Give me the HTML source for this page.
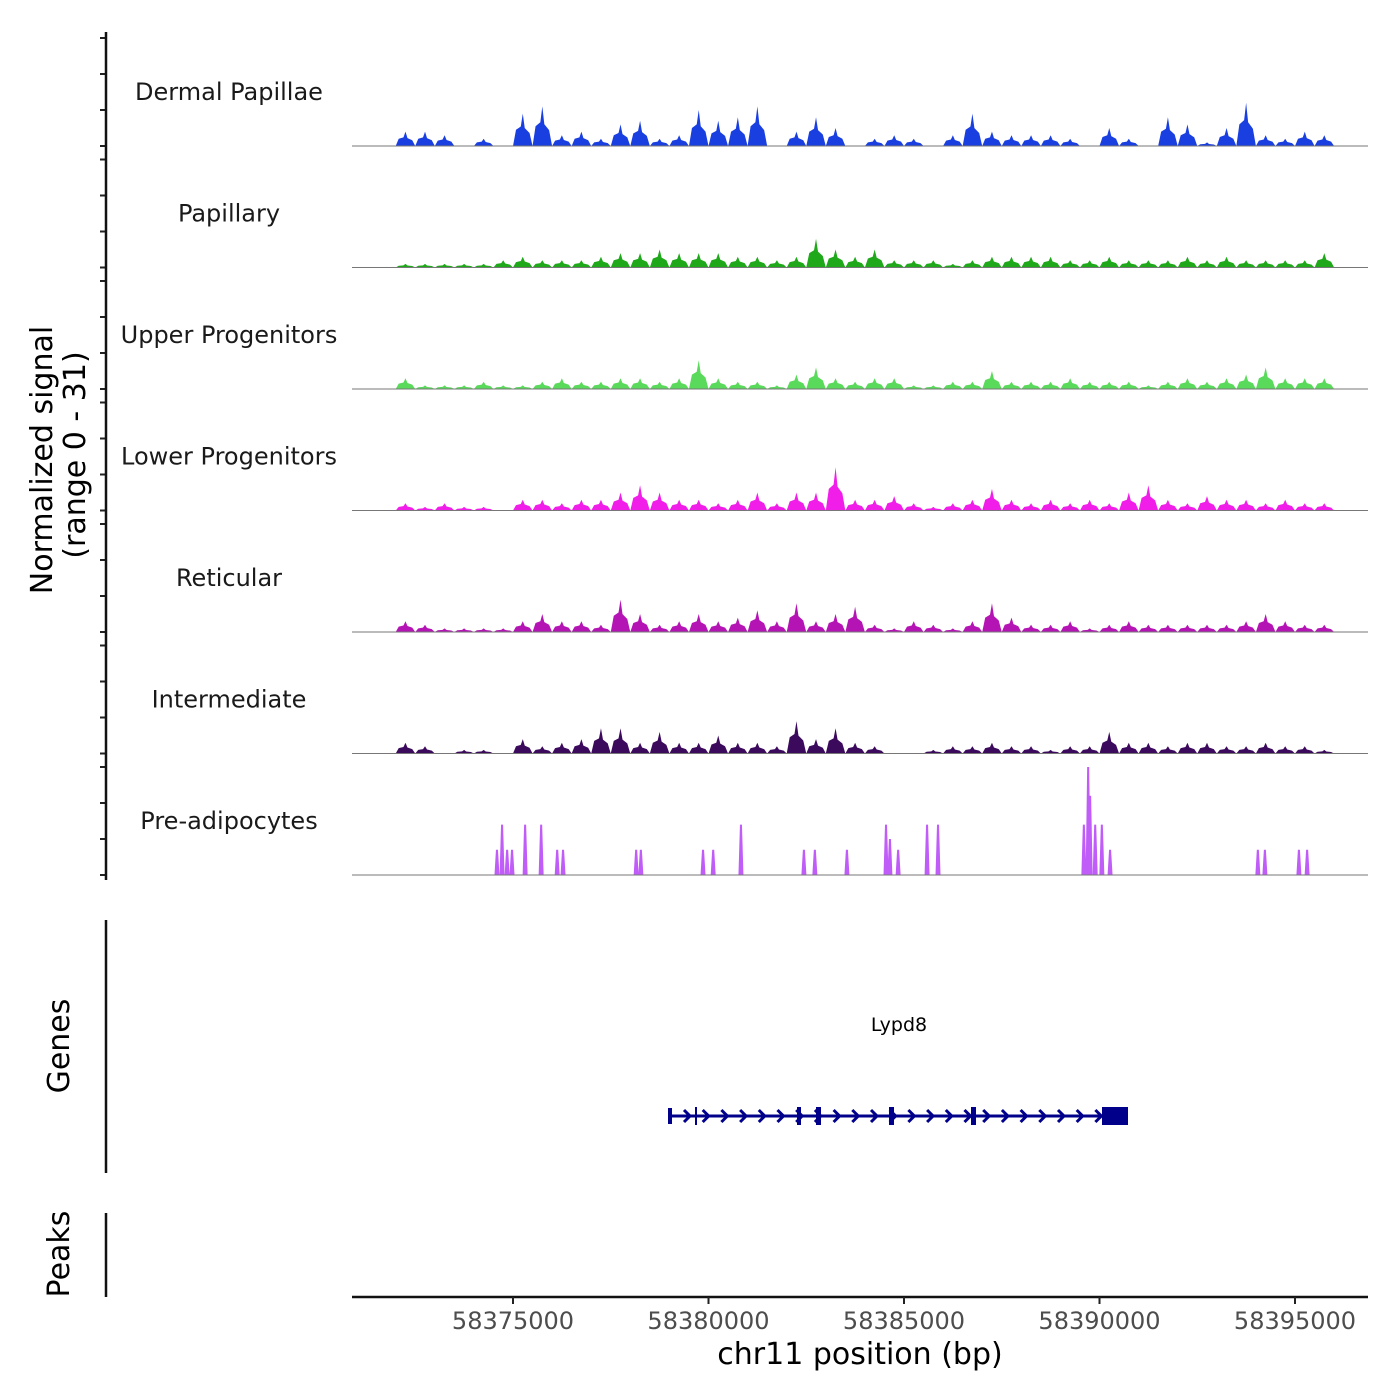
<!DOCTYPE html>
<html><head><meta charset="utf-8"><style>
body{margin:0;background:#fff}
svg{display:block;font-family:"DejaVu Sans","Liberation Sans",sans-serif}
</style></head><body>
<svg id="c" width="1400" height="1400" viewBox="0 0 1400 1400">
<rect width="1400" height="1400" fill="#fff"/>
<g id="tracks"></g>
<g id="axes"></g>
</svg>
<script>
const trackNames=["Dermal Papillae","Papillary","Upper Progenitors","Lower Progenitors","Reticular","Intermediate","Pre-adipocytes"];
const trackColors=["#1a3fe0","#1fa81a","#5ada5a","#f01ee8","#b414b4","#3c0a5c","#c05cf8"];
const binStart=58372000;
const binSize=500;
const dermal=[4,4,3,0,2,0,9,11,3,4,2,6,7,2,3,10,7,8,11,0,4,8,5,0,2,3,2,0,3,9,4,3,3,3,2,0,5,2,0,8,6,1,5,12,3,2,4,3];
const papillary=[1,1,1,1,1,2,3,2,2,2,3,4,4,5,4,4,4,3,3,2,3,8,5,3,5,2,2,2,1,2,3,3,3,3,2,2,3,2,2,2,3,2,3,2,2,2,2,4];
const upper=[3,1,1,1,2,1,1,2,3,2,2,3,3,2,3,8,3,2,2,1,4,6,3,2,3,3,1,1,2,2,5,2,2,2,3,2,2,2,1,2,3,2,3,4,6,3,3,3];
const lower=[2,1,2,1,1,0,3,3,2,3,3,5,7,5,3,3,2,3,5,2,5,5,12,3,3,4,2,1,2,3,6,3,2,3,2,3,2,5,7,3,2,4,3,3,2,3,2,2];
const reticular=[3,2,1,1,1,1,3,5,3,3,2,9,5,2,3,5,3,4,6,3,8,3,5,7,2,1,3,2,1,3,8,4,2,2,3,1,2,3,2,2,2,2,2,3,5,3,2,2];
const intermediate=[3,2,0,1,1,0,4,2,3,4,7,7,3,6,3,3,5,3,3,2,9,4,7,3,2,0,0,1,2,2,3,2,2,1,2,2,6,3,3,2,3,3,2,2,3,2,2,1];
const preBp=[58374590,58374720,58374850,58374975,58375310,58375720,58376130,58376280,58378150,58378270,58379860,58380120,58380830,58382440,58382720,58383540,58384540,58384640,58384850,58385590,58385870,58389600,58389710,58389760,58389890,58390060,58390270,58394050,58394230,58395100,58395310];
const preVal=[7,14,7,7,14,14,7,7,7,7,7,7,14,7,7,7,14,10,7,14,14,14,30,22,14,14,7,7,7,7,7];
const xTicks=[58375000,58380000,58385000,58390000,58395000];
const binned=[dermal,papillary,upper,lower,reticular,intermediate];

const NS="http://www.w3.org/2000/svg";
const xs=bp=>513+(bp-58375000)*0.0391;
const baseY=i=>146+i*121.5;
const ys=(i,v)=>baseY(i)-v*3.6;
function mk(tag,attrs,parent){const e=document.createElementNS(NS,tag);for(const k in attrs)e.setAttribute(k,attrs[k]);parent.appendChild(e);return e;}
const T=document.getElementById('tracks'),A=document.getElementById('axes');

trackNames.forEach((nm,i)=>{
  const g=mk('g',{},T);
  
  
  let d='';
  if(i<6){
    const arr=binned[i];
    arr.forEach((v,k)=>{
      if(v<=0)return;
      const l=xs(binStart+k*binSize),r=xs(binStart+(k+1)*binSize),c=(l+r)/2;
      d+=`M${l},${baseY(i)}L${l+3},${ys(i,v*0.5)}L${c-2},${ys(i,v*0.6)}L${c},${ys(i,v)}L${c+2},${ys(i,v*0.55)}L${r-3},${ys(i,v*0.4)}L${r},${baseY(i)}Z`;
    });
  } else {
    preBp.forEach((b,k)=>{
      const x=xs(b),v=preVal[k];
      d+=`M${x-2.5},${baseY(i)}L${x-1},${ys(i,v)}L${x+1},${ys(i,v)}L${x+2.5},${baseY(i)}Z`;
    });
  }
  const p=mk('path',{d:d,fill:trackColors[i]},g);
  
  
  const bl=mk('line',{x1:352,x2:1368,y1:baseY(i),y2:baseY(i),stroke:'#777','stroke-width':1},g);
  
  
  const t=mk('text',{x:229,y:baseY(i)-46,'text-anchor':'middle','font-size':24,fill:'#1a1a1a'},g);
  t.textContent=nm;
  
  
  [0,36,72,108].forEach(o=>{
    const tk=mk('line',{x1:100,x2:106,y1:baseY(i)-o,y2:baseY(i)-o,stroke:'#222','stroke-width':2},A);
    
    
  });
});
</script>
<script>
(function(){
const A=document.getElementById('axes');
const NS="http://www.w3.org/2000/svg";
function mk(tag,attrs,parent){const e=document.createElementNS(NS,tag);for(const k in attrs)e.setAttribute(k,attrs[k]);parent.appendChild(e);return e;}
const xs=bp=>513+(bp-58375000)*0.0391;
let e;
e=mk('line',{x1:106,x2:106,y1:32,y2:880,stroke:'#111','stroke-width':2.5},A);


e=mk('text',{transform:'translate(52,460) rotate(-90)','text-anchor':'middle','font-size':30,fill:'#000'},A);
e.textContent='Normalized signal';


e=mk('text',{transform:'translate(85,455) rotate(-90)','text-anchor':'middle','font-size':30,fill:'#000'},A);
e.textContent='(range 0 - 31)';


e=mk('line',{x1:106,x2:106,y1:920,y2:1173,stroke:'#111','stroke-width':2.5},A);


e=mk('text',{transform:'translate(69,1046) rotate(-90)','text-anchor':'middle','font-size':30,fill:'#000'},A);
e.textContent='Genes';


e=mk('line',{x1:106,x2:106,y1:1213,y2:1297,stroke:'#111','stroke-width':2.5},A);


e=mk('text',{transform:'translate(69,1254) rotate(-90)','text-anchor':'middle','font-size':30,fill:'#000'},A);
e.textContent='Peaks';


const gg=mk('g',{},A);


mk('line',{x1:668,x2:1128,y1:1116,y2:1116,stroke:'#00008b','stroke-width':3},gg);
for(let x=688;x<1100;x+=18.7){mk('path',{d:`M${x-4},${1110}L${x+2},1116L${x-4},1122`,stroke:'#00008b','stroke-width':3,fill:'none'},gg);}
[[668,4,16],[695,2,18],[797,4,18],[816,5,18],[889,5,18],[971,5,18],[1102,26,18]].forEach(r=>{mk('rect',{x:r[0],y:1116-r[2]/2,width:r[1],height:r[2],fill:'#00008b'},gg);});
e=mk('text',{x:899,y:1031,'text-anchor':'middle','font-size':19,fill:'#000'},A);
e.textContent='Lypd8';


e=mk('line',{x1:352,x2:1368,y1:1297,y2:1297,stroke:'#111','stroke-width':2.5},A);


[58375000,58380000,58385000,58390000,58395000].forEach(v=>{
  const t=mk('line',{x1:xs(v),x2:xs(v),y1:1297,y2:1304,stroke:'#222','stroke-width':2},A);
  
  
  const l=mk('text',{x:xs(v),y:1329,'text-anchor':'middle','font-size':24,fill:'#4d4d4d'},A);
  l.textContent=String(v);
  
  
});
e=mk('text',{x:860,y:1364,'text-anchor':'middle','font-size':30,fill:'#000'},A);
e.textContent='chr11 position (bp)';


})();
</script>
</body></html>
